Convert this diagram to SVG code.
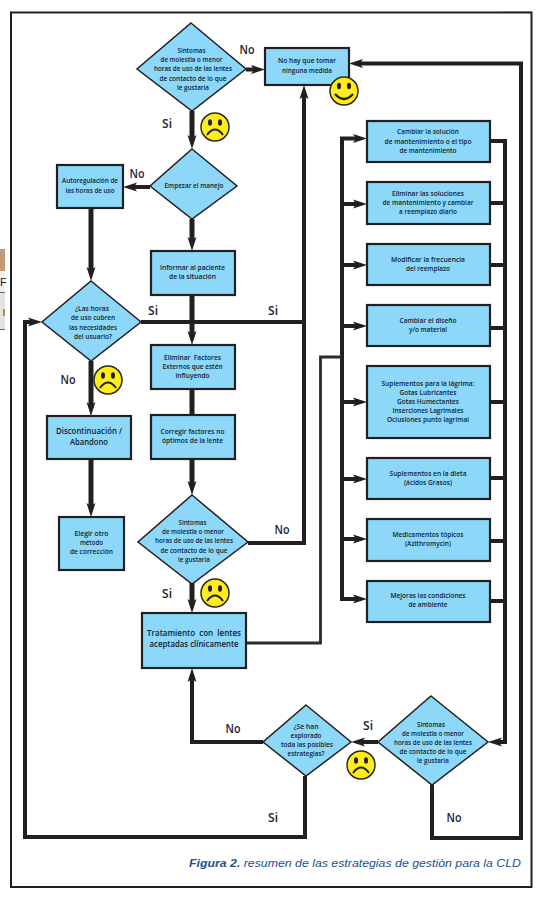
<svg xmlns="http://www.w3.org/2000/svg" width="539" height="900" viewBox="0 0 539 900">
<style>
.n{fill:#8dd7f9;stroke:#231f20;stroke-width:2.2}
.d{fill:#8dd7f9;stroke:#231f20;stroke-width:1.5;stroke-linejoin:miter}
.c{fill:none;stroke:#231f20;stroke-linejoin:miter}
.w5{stroke-width:5}.w4{stroke-width:4}
.a{marker-end:url(#ah)}
text{font-family:"Open Sans","Noto Sans",sans-serif;text-anchor:middle;fill:#101c33;font-size:7.4px;font-weight:600}
.l{font-family:"Open Sans","Noto Sans",sans-serif;font-size:13px;font-weight:600;fill:#1c2230}
.b{font-size:8px}
.cap{text-anchor:start;font-family:"Liberation Sans",Arial,sans-serif;font-size:11.5px;font-style:italic;fill:#1f4f8f;font-weight:400}
</style>
<defs>
<marker id="ah" markerUnits="userSpaceOnUse" markerWidth="18" markerHeight="12" refX="4" refY="5" orient="auto" viewBox="0 0 18 10">
<path d="M0,0.500 L14,5 L0,9.500 L3,5 Z" fill="#231f20"/>
</marker>
<g id="sad"><circle r="14" fill="#ffec1e" stroke="#2a2a1a" stroke-width="1.5"/><ellipse cx="-5" cy="-4.500" rx="2" ry="3.200" fill="#231f20"/><ellipse cx="5" cy="-4.500" rx="2" ry="3.200" fill="#231f20"/><path d="M-8,8 Q0,-3 8,8" fill="none" stroke="#231f20" stroke-width="2"/></g>
<g id="happy"><circle r="14" fill="#ffec1e" stroke="#2a2a1a" stroke-width="1.5"/><ellipse cx="-5" cy="-5" rx="2" ry="3.200" fill="#231f20"/><ellipse cx="5" cy="-5" rx="2" ry="3.200" fill="#231f20"/><path d="M-9,3 Q0,13 9,3" fill="none" stroke="#231f20" stroke-width="2.400"/></g>
</defs>
<rect width="539" height="900" fill="#fff"/>
<g id="margen">
<rect x="0" y="249" width="5" height="22" fill="#c49a78"/>
<rect x="0" y="272" width="5" height="20" fill="#efefef"/>
<rect x="0" y="293" width="5" height="37" fill="#e2e2e2"/>
<rect x="0" y="292" width="5" height="1" fill="#666"/>
<rect x="0" y="329" width="5" height="1" fill="#666"/>
<rect x="3" y="309" width="2" height="7" fill="#c08a40"/>
<text x="0" y="286" style="text-anchor:start;font-family:'Liberation Sans',sans-serif;font-size:11px;font-weight:400;fill:#222">F</text>
<rect x="503" y="11" width="29" height="1.500" fill="#cfcfa8"/>
</g>
<rect id="marco" x="11" y="12.500" width="520.500" height="874.500" fill="none" stroke="#231f20" stroke-width="2"/>
<g id="connectors">
<path class="c w4 a" d="M246,69.500H255"/>
<path class="c w5 a" d="M192,111V139"/>
<path class="c w4 a" d="M150,187H133"/>
<path class="c w5 a" d="M192,219V241"/>
<path class="c w5 a" d="M91,208V271"/>
<path class="c w5 a" d="M192,295V335"/>
<path class="c w5" d="M192,389V415"/>
<path class="c w5 a" d="M192,459V485"/>
<path class="c w5 a" d="M192,583V603"/>
<path class="c w5 a" d="M91,361V406"/>
<path class="c w5 a" d="M91,459V507"/>
<path class="c w4" d="M141,322H304"/>
<path class="c w4 a" d="M248,543H304V95"/>
<path class="c w4 a" d="M305,776V837H25V322H32"/>
<path class="c w4 a" d="M263,742H192V678"/>
<path class="c w4 a" d="M378,742H361"/>
<path class="c w4 a" d="M432,785V838H521V63.500H359"/>
<path class="c w4 a" d="M490,141H505V742H498"/>
<path class="c w4" d="M490,203H505M490,265H505M490,328H505M490,402H505M490,478H505M490,541H505M490,601H505"/>
<path class="c w4 a" d="M342,138.500V599H357"/>
<path class="c w4 a" d="M340,138.500H357"/>
<path class="c w4 a" d="M342,204H357"/>
<path class="c w4 a" d="M342,265H357"/>
<path class="c w4 a" d="M342,326H357"/>
<path class="c w4 a" d="M342,402H357"/>
<path class="c w4 a" d="M342,479H357"/>
<path class="c w4 a" d="M342,539H357"/>
<path d="M246,643H320.500V357H342" fill="none" stroke="#2c2c2c" stroke-width="2.800"/>
</g>
<g id="n-sintomas1"><polygon class="d" points="191,23 246,69 192,111 137,69"/>
<text x="191.500" y="53" textLength="28" lengthAdjust="spacingAndGlyphs">Síntomas</text><text x="191.500" y="62" textLength="62" lengthAdjust="spacingAndGlyphs">de molestia o menor</text><text x="193" y="71" textLength="78" lengthAdjust="spacingAndGlyphs">horas de uso de las lentes</text><text x="193" y="81" textLength="67" lengthAdjust="spacingAndGlyphs">de contacto de lo que</text><text x="193" y="90" textLength="32" lengthAdjust="spacingAndGlyphs">le gustaría</text></g>
<g id="n-nohay"><rect class="n" x="265" y="48" width="84" height="37"/>
<text x="307" y="63" textLength="58" lengthAdjust="spacingAndGlyphs">No hay que tomar</text><text x="307" y="73" textLength="50" lengthAdjust="spacingAndGlyphs">ninguna medida</text></g>
<g id="n-empezar"><polygon class="d" points="192,149 237,186 192,219 150,186"/>
<text x="194" y="188" textLength="59" lengthAdjust="spacingAndGlyphs">Empezar el manejo</text></g>
<g id="n-autoreg"><rect class="n" x="57" y="165" width="66" height="43"/>
<text x="90" y="183" textLength="56" lengthAdjust="spacingAndGlyphs">Autoregulación de</text><text x="90" y="193" textLength="49" lengthAdjust="spacingAndGlyphs">las horas de uso</text></g>
<g id="n-informar"><rect class="n" x="151" y="251" width="84" height="44"/>
<text x="192.500" y="270" textLength="65" lengthAdjust="spacingAndGlyphs">Informar al paciente</text><text x="192.500" y="279" textLength="47" lengthAdjust="spacingAndGlyphs">de la situación</text></g>
<g id="n-horas"><polygon class="d" points="91,281 141,322 91,361 42,322"/>
<text x="92" y="311" textLength="34" lengthAdjust="spacingAndGlyphs">¿Las horas</text><text x="93" y="320" textLength="44" lengthAdjust="spacingAndGlyphs">de uso cubren</text><text x="93" y="330" textLength="48" lengthAdjust="spacingAndGlyphs">las necesidades</text><text x="93" y="339" textLength="38" lengthAdjust="spacingAndGlyphs">del usuario?</text></g>
<g id="n-eliminar"><rect class="n" x="151" y="345" width="84" height="44"/>
<text x="192.500" y="360" textLength="57" lengthAdjust="spacingAndGlyphs" xml:space="preserve">Eliminar  Factores</text><text x="192.500" y="369" textLength="60" lengthAdjust="spacingAndGlyphs">Externos que estén</text><text x="192.500" y="378" textLength="34" lengthAdjust="spacingAndGlyphs">influyendo</text></g>
<g id="n-corregir"><rect class="n" x="151" y="415" width="84" height="44"/>
<text x="192.500" y="434" textLength="64" lengthAdjust="spacingAndGlyphs">Corregir factores no</text><text x="192.500" y="443" textLength="61" lengthAdjust="spacingAndGlyphs">óptimos de la lente</text></g>
<g id="n-discont"><rect class="n" x="47" y="416" width="84" height="43"/>
<text class="b" x="89" y="434" textLength="66" lengthAdjust="spacingAndGlyphs">Discontinuación /</text><text class="b" x="89" y="445" textLength="38" lengthAdjust="spacingAndGlyphs">Abandono</text></g>
<g id="n-elegir"><rect class="n" x="59" y="517" width="65" height="53"/>
<text x="91.500" y="536" textLength="34" lengthAdjust="spacingAndGlyphs">Elegir otro</text><text x="91.500" y="545" textLength="23" lengthAdjust="spacingAndGlyphs">método</text><text x="91.500" y="554" textLength="43" lengthAdjust="spacingAndGlyphs">de corrección</text></g>
<g id="n-sintomas2"><polygon class="d" points="192,495 248,542 192,584 138,542"/>
<text x="192.500" y="525" textLength="28" lengthAdjust="spacingAndGlyphs">Síntomas</text><text x="193" y="534" textLength="62" lengthAdjust="spacingAndGlyphs">de molestia o menor</text><text x="194" y="543" textLength="78" lengthAdjust="spacingAndGlyphs">horas de uso de las lentes</text><text x="194" y="553" textLength="67" lengthAdjust="spacingAndGlyphs">de contacto de lo que</text><text x="194" y="562" textLength="32" lengthAdjust="spacingAndGlyphs">le gustaría</text></g>
<g id="n-tratamiento"><rect class="n" x="142" y="613" width="104" height="55"/>
<text class="b" x="194" y="636" textLength="94" lengthAdjust="spacingAndGlyphs" xml:space="preserve">Tratamiento  con  lentes</text><text class="b" x="194" y="647" textLength="89" lengthAdjust="spacingAndGlyphs">aceptadas clínicamente</text></g>
<g id="n-sehan"><polygon class="d" points="306,705 351,742 306,776 263,742"/>
<text x="306" y="729" textLength="25" lengthAdjust="spacingAndGlyphs">¿Se han</text><text x="306" y="738" textLength="31" lengthAdjust="spacingAndGlyphs">explorado</text><text x="307" y="747" textLength="52" lengthAdjust="spacingAndGlyphs">toda las posibles</text><text x="306" y="756" textLength="37" lengthAdjust="spacingAndGlyphs">estrategias?</text></g>
<g id="n-sintomas3"><polygon class="d" points="431,696 488,742 432,785 378,742"/>
<text x="431" y="727" textLength="28" lengthAdjust="spacingAndGlyphs">Síntomas</text><text x="433" y="736" textLength="62" lengthAdjust="spacingAndGlyphs">de molestia o menor</text><text x="433" y="745" textLength="78" lengthAdjust="spacingAndGlyphs">horas de uso de las lentes</text><text x="433" y="754" textLength="67" lengthAdjust="spacingAndGlyphs">de contacto de lo que</text><text x="433" y="763" textLength="32" lengthAdjust="spacingAndGlyphs">le gustaría</text></g>
<g id="n-r1"><rect class="n" x="367" y="121" width="123" height="41"/>
<text x="428" y="134" textLength="62" lengthAdjust="spacingAndGlyphs">Cambiar la solución</text><text x="428" y="144" textLength="87" lengthAdjust="spacingAndGlyphs">de mantenimiento o el tipo</text><text x="428" y="153" textLength="57" lengthAdjust="spacingAndGlyphs">de mantenimiento</text></g>
<g id="n-r2"><rect class="n" x="367" y="182" width="123" height="42"/>
<text x="428" y="196" textLength="72" lengthAdjust="spacingAndGlyphs">Eliminar las soluciones</text><text x="428" y="205" textLength="91" lengthAdjust="spacingAndGlyphs">de mantenimiento y cambiar</text><text x="428" y="214" textLength="58" lengthAdjust="spacingAndGlyphs">a reemplazo diario</text></g>
<g id="n-r3"><rect class="n" x="367" y="244" width="123" height="41"/>
<text x="428" y="262" textLength="74" lengthAdjust="spacingAndGlyphs">Modificar la frecuencia</text><text x="428" y="271" textLength="44" lengthAdjust="spacingAndGlyphs">del reemplazo</text></g>
<g id="n-r4"><rect class="n" x="367" y="305" width="123" height="41"/>
<text x="428" y="323" textLength="57" lengthAdjust="spacingAndGlyphs">Cambiar el diseño</text><text x="428" y="332" textLength="38" lengthAdjust="spacingAndGlyphs">y/o material</text></g>
<g id="n-r5"><rect class="n" x="367" y="366" width="123" height="72"/>
<text x="428" y="386" textLength="93" lengthAdjust="spacingAndGlyphs">Suplementos para la lágrima:</text><text x="428" y="395" textLength="57" lengthAdjust="spacingAndGlyphs">Gotas Lubricantes</text><text x="428" y="404" textLength="62" lengthAdjust="spacingAndGlyphs">Gotas Humectantes</text><text x="428" y="413" textLength="71" lengthAdjust="spacingAndGlyphs">Inserciones Lagrimales</text><text x="428" y="422" textLength="82" lengthAdjust="spacingAndGlyphs">Oclusiones punto lagrimal</text></g>
<g id="n-r6"><rect class="n" x="367" y="458" width="123" height="41"/>
<text x="428" y="476" textLength="77" lengthAdjust="spacingAndGlyphs">Suplementos en la dieta</text><text x="428" y="485" textLength="48" lengthAdjust="spacingAndGlyphs">(ácidos Grasos)</text></g>
<g id="n-r7"><rect class="n" x="367" y="519" width="123" height="42"/>
<text x="428" y="537" textLength="71" lengthAdjust="spacingAndGlyphs">Medicamentos tópicos</text><text x="428" y="546" textLength="46" lengthAdjust="spacingAndGlyphs">(Azithromycin)</text></g>
<g id="n-r8"><rect class="n" x="367" y="581" width="123" height="41"/>
<text x="428" y="598" textLength="75" lengthAdjust="spacingAndGlyphs">Mejoras las condiciones</text><text x="428" y="607" textLength="39" lengthAdjust="spacingAndGlyphs">de ambiente</text></g>
<g id="caras">
<use href="#sad" x="215" y="127"/>
<use href="#happy" x="344" y="91"/>
<use href="#sad" x="108" y="380"/>
<use href="#sad" x="215" y="593"/>
<use href="#sad" x="361" y="765"/>
</g>
<g id="etiquetas">
<text class="l" x="247" y="54" textLength="15" lengthAdjust="spacingAndGlyphs">No</text>
<text class="l" x="167" y="128" textLength="10" lengthAdjust="spacingAndGlyphs">Si</text>
<text class="l" x="137" y="178" textLength="15" lengthAdjust="spacingAndGlyphs">No</text>
<text class="l" x="153" y="315" textLength="10" lengthAdjust="spacingAndGlyphs">Si</text>
<text class="l" x="273" y="315" textLength="10" lengthAdjust="spacingAndGlyphs">Si</text>
<text class="l" x="68" y="384" textLength="15" lengthAdjust="spacingAndGlyphs">No</text>
<text class="l" x="282" y="534" textLength="15" lengthAdjust="spacingAndGlyphs">No</text>
<text class="l" x="167" y="598" textLength="10" lengthAdjust="spacingAndGlyphs">Si</text>
<text class="l" x="233" y="733" textLength="15" lengthAdjust="spacingAndGlyphs">No</text>
<text class="l" x="368" y="730" textLength="10" lengthAdjust="spacingAndGlyphs">Si</text>
<text class="l" x="273" y="822" textLength="10" lengthAdjust="spacingAndGlyphs">Si</text>
<text class="l" x="454" y="822" textLength="15" lengthAdjust="spacingAndGlyphs">No</text>
</g>
<text class="cap" x="189" y="867" textLength="332" lengthAdjust="spacingAndGlyphs"><tspan font-weight="700">Figura 2.</tspan> resumen de las estrategias de gestiòn para la CLD</text>
</svg>
